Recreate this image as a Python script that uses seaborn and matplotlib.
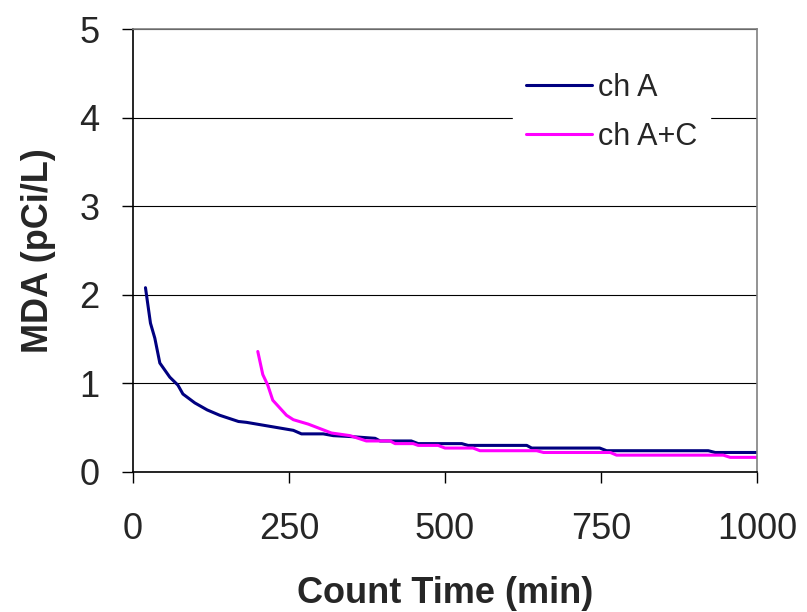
import matplotlib
matplotlib.use('Agg')
import matplotlib.pyplot as plt
import pandas as pd
import seaborn as sns

# ch A
time_a = [20, 28, 35, 43, 59, 72, 80, 99, 119, 139, 169, 182, 257, 270, 305, 321,
          348, 388, 396, 446, 457, 527, 537, 631, 639, 748, 759, 922, 933, 1000]
mda_a = [2.08, 1.68, 1.51, 1.23, 1.07, 0.98, 0.88, 0.78, 0.70, 0.64, 0.57, 0.56,
         0.47, 0.43, 0.43, 0.41, 0.40, 0.38, 0.35, 0.35, 0.32, 0.32, 0.30, 0.30, 0.27,
         0.27, 0.24, 0.24, 0.22, 0.22]

# ch A+C
time_ac = [200, 208, 216, 224, 246, 257, 281, 318, 348, 374, 412, 420, 449, 457, 489,
           500, 545, 556, 647, 658, 765, 775, 946, 957, 1000]
mda_ac = [1.36, 1.10, 0.98, 0.81, 0.64, 0.59, 0.54, 0.44, 0.41, 0.35, 0.35, 0.32, 0.32,
          0.30, 0.30, 0.27, 0.27, 0.24, 0.24, 0.22, 0.22, 0.19, 0.19, 0.165, 0.165]

df = pd.concat([
    pd.DataFrame({'t': time_a, 'mda': mda_a, 'ch': 'ch A'}),
    pd.DataFrame({'t': time_ac, 'mda': mda_ac, 'ch': 'ch A+C'}),
])

sns.set_style('white')
plt.rcParams['font.family'] = ['Liberation Sans', 'DejaVu Sans']

fig = plt.figure(figsize=(8.07, 6.12), dpi=100)
ax = fig.add_axes([0.1648, 0.2288, 0.938 - 0.1648, 0.9526 - 0.2288])

sns.lineplot(data=df, x='t', y='mda', hue='ch', palette=['#000080', '#FF00FF'],
             linewidth=2.2, sort=False, estimator=None, ax=ax)

ax.set_xlim(0, 1000)
ax.set_ylim(0, 5)
ax.set_xticks([0, 250, 500, 750, 1000])
ax.set_yticks([0, 1, 2, 3, 4, 5])
ax.yaxis.grid(True, color='black', linewidth=0.8)
ax.set_axisbelow(True)

for s in ['left', 'bottom']:
    ax.spines[s].set_color('black')
    ax.spines[s].set_linewidth(1.2)
for s in ['top', 'right']:
    ax.spines[s].set_color('#808080')
    ax.spines[s].set_linewidth(1.2)

ax.tick_params(axis='both', which='major', direction='out', length=8, width=1,
               color='black', labelsize=26, left=True, bottom=True)
ax.tick_params(axis='x', pad=21)
ax.tick_params(axis='y', pad=16)
ax.set_xlabel('Count Time (min)', fontsize=26, fontweight='bold', labelpad=21)
ax.set_ylabel('MDA (pCi/L)', fontsize=26, fontweight='bold', labelpad=17)

leg = ax.legend(loc='upper left', bbox_to_anchor=(513 / 807, 1 - 60 / 612),
                bbox_transform=fig.transFigure, fontsize=22,
                frameon=True, fancybox=False, framealpha=1, facecolor='white',
                edgecolor='white', handlelength=2.16, handletextpad=0.2,
                labelspacing=0.63, borderpad=0.42, borderaxespad=0, title=None)
for line in leg.get_lines():
    line.set_linewidth(2.2)

fig.savefig('out.png', dpi=100)
